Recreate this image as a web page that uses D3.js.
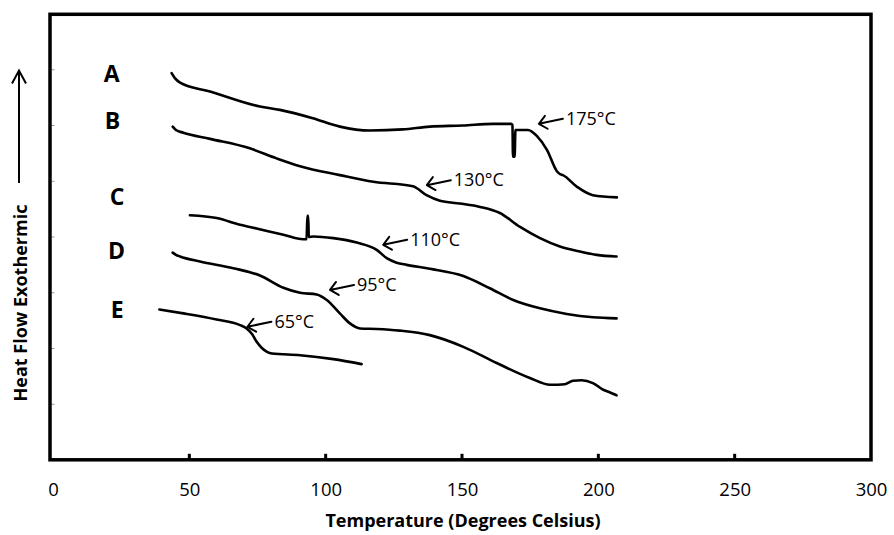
<!DOCTYPE html>
<html>
<head>
<meta charset="utf-8">
<script src="https://cdn.jsdelivr.net/npm/d3@7"></script>
<style>
  html, body { margin: 0; padding: 0; background: #fff; }
  svg { display: block; }
  text { font-family: "Open Sans", "Noto Sans", sans-serif; fill: #000; }
</style>
</head>
<body>
<svg id="chart" width="894" height="535"></svg>
<script>
// DSC thermograms: heat flow (arbitrary offset units) versus temperature, °C
const xTicks = [0, 50, 100, 150, 200, 250, 300];
const yTicks = [1, 2, 3, 4, 5, 6, 7];

const curveNames = ["A", "B", "C", "D", "E"];

const tempA = [43.5, 44.7, 46.6, 57.6, 75.9, 83.2, 95.3, 105.2, 116.2, 128.3, 138.2, 150.3, 161.3, 168.0, 168.5, 168.7, 169.3, 169.6, 170.2, 174.2, 177.5, 181.2, 184.8, 185.9, 187.0, 192.2, 198.0, 206.8];
const flowA = [6.94, 6.85, 6.77, 6.61, 6.34, 6.28, 6.13, 5.98, 5.91, 5.93, 5.98, 6.00, 6.03, 6.03, 6.01, 5.44, 5.44, 5.92, 5.92, 5.92, 5.81, 5.56, 5.18, 5.13, 5.11, 4.90, 4.75, 4.71];

const tempB = [43.9, 45.1, 47.8, 57.6, 72.2, 82.0, 90.6, 105.2, 117.5, 132.0, 137.0, 141.9, 149.2, 156.6, 163.9, 171.3, 178.6, 185.9, 193.3, 199.4, 206.7];
const flowB = [5.98, 5.92, 5.87, 5.76, 5.59, 5.41, 5.27, 5.11, 4.99, 4.91, 4.75, 4.65, 4.60, 4.54, 4.43, 4.18, 3.98, 3.83, 3.74, 3.68, 3.65];

const tempC = [50.2, 60.0, 68.6, 72.2, 84.5, 91.7, 93.0, 93.3, 93.6, 93.8, 95.5, 102.8, 111.4, 118.7, 122.4, 126.0, 129.7, 138.2, 150.5, 160.2, 168.8, 178.6, 188.4, 198.1, 206.7];
const flowC = [4.39, 4.34, 4.22, 4.18, 4.04, 3.96, 3.96, 4.38, 4.38, 4.00, 4.01, 3.98, 3.90, 3.77, 3.62, 3.54, 3.50, 3.43, 3.30, 3.08, 2.87, 2.72, 2.62, 2.56, 2.54];

const tempD = [43.9, 45.1, 46.6, 53.9, 66.1, 75.9, 84.5, 90.6, 96.7, 100.4, 105.2, 108.9, 112.6, 118.7, 127.2, 138.2, 150.5, 162.7, 174.9, 182.3, 187.8, 190.7, 193.9, 198.0, 201.8, 204.3, 206.7];
const flowD = [3.72, 3.68, 3.65, 3.56, 3.44, 3.31, 3.09, 3.00, 2.97, 2.87, 2.63, 2.45, 2.36, 2.35, 2.32, 2.24, 2.03, 1.74, 1.47, 1.35, 1.36, 1.42, 1.43, 1.38, 1.26, 1.21, 1.16];

const tempE = [39.0, 47.8, 60.0, 68.6, 71.0, 73.0, 74.7, 76.6, 78.5, 80.3, 90.6, 102.8, 113.2];
const flowE = [2.70, 2.63, 2.52, 2.42, 2.36, 2.26, 2.12, 2.01, 1.94, 1.91, 1.88, 1.81, 1.72];

// where each curve's letter sits (temperature, heat flow)
const nameTemp = [21.5, 21.8, 23.5, 23.3, 23.5];
const nameFlow = [6.94, 6.09, 4.74, 3.77, 2.71];

// transition temperatures and the points their arrows touch
const transitionTemps = [175, 130, 110, 95, 65];
const arrowTipTemp = [178.2, 137.1, 121.1, 101.6, 71.3];
const arrowTipFlow = [6.03, 4.93, 3.86, 3.05, 2.39];

const temps = [tempA, tempB, tempC, tempD, tempE];
const flows = [flowA, flowB, flowC, flowD, flowE];

const svg = d3.select("#chart");
const frame = { left: 50, top: 14.3, right: 871, bottom: 459.8 };

const x = d3.scaleLinear().domain([0, 300]).range([53, 871]);
const y = d3.scaleLinear().domain([0, 8]).range([460, 14]);

// faint inner ticks on the heat-flow axis (no labels)
svg.append("g").selectAll("line").data(yTicks).join("line")
  .attr("x1", frame.left + 1.5).attr("x2", frame.left + 4.5)
  .attr("y1", d => y(d)).attr("y2", d => y(d))
  .attr("stroke", "#999").attr("stroke-width", 1);

// temperature axis
const xAxis = d3.axisBottom(x).tickValues(xTicks).tickSize(0).tickPadding(0);
const gx = svg.append("g").attr("transform", `translate(0,${frame.bottom})`).call(xAxis);
gx.select(".domain").remove();
gx.selectAll("text")
  .attr("y", 36.5).attr("dy", null)
  .style("font-size", "18.5px").style("font-family", '"Open Sans", sans-serif').attr("fill", "#000");

// small inward tick marks
svg.append("g").selectAll("line").data(xTicks.slice(1, -1)).join("line")
  .attr("x1", d => x(d)).attr("x2", d => x(d))
  .attr("y1", frame.bottom).attr("y2", frame.bottom - 6)
  .attr("stroke", "#000").attr("stroke-width", 3);

// plot frame
svg.append("rect")
  .attr("x", frame.left).attr("y", frame.top)
  .attr("width", frame.right - frame.left).attr("height", frame.bottom - frame.top)
  .attr("fill", "none").attr("stroke", "#000").attr("stroke-width", 3.5);

// thermogram curves
const line = d3.line().x(d => x(d[0])).y(d => y(d[1])).curve(d3.curveMonotoneX);
svg.append("g").selectAll("path").data(curveNames).join("path")
  .attr("d", (n, i) => line(d3.zip(temps[i], flows[i])))
  .attr("fill", "none").attr("stroke", "#000")
  .attr("stroke-width", 2.6).attr("stroke-linejoin", "round").attr("stroke-linecap", "round");

// curve letters
svg.append("g").selectAll("text").data(curveNames).join("text")
  .attr("x", (n, i) => x(nameTemp[i])).attr("y", (n, i) => y(nameFlow[i]))
  .attr("text-anchor", "middle").attr("dominant-baseline", "central")
  .style("font-size", "23px").style("font-weight", "bold")
  .text(n => n);

// transition arrows with labels
const shaft = { dx: 24, dy: -5 };
const ang = Math.atan2(shaft.dy, shaft.dx);
const headLen = 10, headSpread = 0.72;
const ann = svg.append("g");
transitionTemps.forEach((t, i) => {
  const tx = x(arrowTipTemp[i]), ty = y(arrowTipFlow[i]);
  const ex = tx + shaft.dx, ey = ty + shaft.dy;
  const h1x = tx + headLen * Math.cos(ang + headSpread), h1y = ty + headLen * Math.sin(ang + headSpread);
  const h2x = tx + headLen * Math.cos(ang - headSpread), h2y = ty + headLen * Math.sin(ang - headSpread);
  ann.append("path")
    .attr("d", `M${ex},${ey}L${tx},${ty}M${h1x},${h1y}L${tx},${ty}L${h2x},${h2y}`)
    .attr("fill", "none").attr("stroke", "#000").attr("stroke-width", 2)
    .attr("stroke-linecap", "round").attr("stroke-linejoin", "round");
  ann.append("text")
    .attr("x", ex + 3).attr("y", ey + 6)
    .style("font-size", "18px")
    .text(`${t}°C`);
});

// axis titles
svg.append("text")
  .attr("x", 463).attr("y", 527)
  .attr("text-anchor", "middle")
  .style("font-size", "18px").style("font-weight", "bold")
  .text("Temperature (Degrees Celsius)");

svg.append("text")
  .attr("transform", "translate(27,303) rotate(-90)")
  .attr("text-anchor", "middle")
  .style("font-size", "18px").style("font-weight", "bold")
  .text("Heat Flow Exothermic");

// direction arrow for exothermic heat flow
svg.append("path")
  .attr("d", "M19,183L19,71M12,83.5L19,70.5L26,83.5")
  .attr("fill", "none").attr("stroke", "#000").attr("stroke-width", 2);
</script>
</body>
</html>
